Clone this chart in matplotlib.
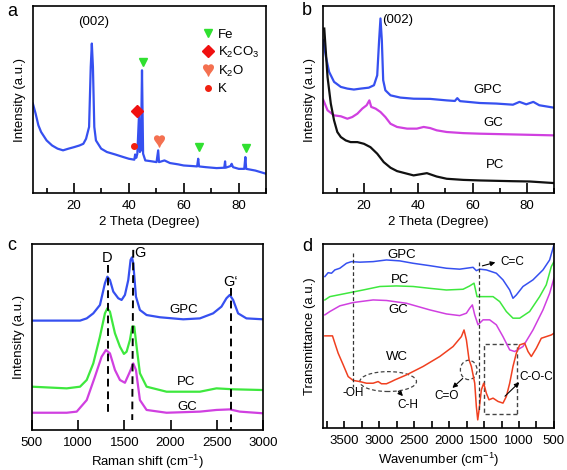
import numpy as np
import matplotlib
matplotlib.use("Agg")
import matplotlib.pyplot as plt
from matplotlib.lines import Line2D
from matplotlib.patches import Ellipse, Rectangle
from matplotlib.ticker import MultipleLocator

plt.rcParams['font.family'] = ['Liberation Sans', 'DejaVu Sans']
plt.rcParams['font.size'] = 9.5
plt.rcParams['mathtext.default'] = 'regular'

# ---------------- panel a : XRD of GPC with phases ----------------
a_theta = [5, 6, 7, 8, 10, 12, 14, 16, 18, 20, 22, 23.4, 24.4, 25.5, 26.1, 26.5, 26.9,
           27.4, 28, 29.9, 32, 35, 38, 40, 42, 42.3, 42.7, 43.1, 43.7, 44.0, 44.4, 44.8,
           45.2, 46, 48, 50.1, 50.7, 51, 53, 55, 58, 60, 63.1, 64.9, 65.3, 65.6, 68.1,
           72, 74.8, 75.1, 75.3, 77.1, 77.5, 78, 80.1, 82.1, 82.5, 82.8, 86.1, 90]
a_int = [47.9, 42.5, 36.3, 32.7, 28.2, 25.5, 23.8, 22.9, 23.8, 24.6, 25.5, 26.4, 29.1,
         35.4, 67.5, 80.0, 67.5, 35.4, 28.2, 23.8, 22.0, 20.7, 19.3, 18.4, 17.9, 20.7,
         18.9, 21.1, 41.6, 22.0, 22.9, 65.7, 21.1, 17.5, 17.1, 16.6, 22.9, 16.6, 17.5,
         16.1, 15.4, 14.8, 14.5, 14.3, 18.4, 14.3, 13.9, 13.4, 13.6, 17.0, 13.6, 14.5,
         15.7, 13.9, 13.0, 13.0, 19.3, 13.0, 12.1, 10.4]
fe_theta = [45.2, 65.6, 82.8]
fe_int = [70.2, 24.6, 24.3]
k2co3_theta, k2co3_int = [42.9], [43.8]
k2o_theta, k2o_int = [51.0], [27.9]
k_theta, k_int = [42.0], [25.2]

# ---------------- panel b : XRD of PC, GC, GPC ----------------
b_gpc_theta = [5, 6, 7.2, 9, 11.5, 13.9, 16.3, 18.8, 21.8, 23.7, 24.9, 25.6, 26.1, 26.6,
               27.1, 27.9, 29.8, 33.4, 38.3, 44.4, 50.5, 53.5, 54.4, 55.4, 62.7, 68.8,
               74.9, 77.3, 79.8, 82.4, 84.6, 90]
b_gpc = [81.8, 72.9, 64.8, 59.5, 56.8, 55.9, 55.4, 55.9, 56.4, 57.7, 63.0, 81.8, 93.4,
         81.8, 60.4, 55.0, 52.3, 51.1, 50.5, 50.4, 49.6, 49.3, 50.8, 49.2, 48.2, 47.9,
         47.3, 48.8, 47.5, 48.8, 47.0, 45.7]
b_gc_theta = [5, 6.6, 9, 11.5, 13.9, 15.7, 17.6, 19.4, 21.0, 22.0, 22.7, 24.3, 26.1,
              27.9, 29.8, 32.2, 35.9, 39.5, 42.0, 44.4, 46.8, 50.5, 56.6, 62.7, 74.9, 90]
b_gc = [50.0, 44.3, 41.6, 41.1, 39.8, 40.7, 42.5, 45.2, 47.0, 49.6, 46.1, 45.2, 43.4,
        40.7, 37.1, 35.4, 34.5, 34.5, 35.4, 34.8, 33.6, 32.7, 32.1, 31.8, 31.4, 30.9]
b_pc_theta = [5.4, 6.6, 7.8, 9, 10.2, 11.5, 13.3, 15.1, 17.6, 20, 22.4, 24.9, 27.3,
              29.8, 32.2, 35.9, 38.3, 43.2, 46.8, 50.5, 56.6, 62.7, 74.9, 81, 90]
b_pc = [88.0, 62.1, 47.9, 38.9, 32.7, 30.0, 28.2, 27.3, 27.3, 26.4, 24.6, 21.1, 16.6,
        13.6, 11.8, 10.4, 9.5, 10.7, 8.9, 7.7, 7.1, 6.8, 6.4, 6.25, 5.4]

# ---------------- panel c : Raman ----------------
c_gpc_x = [500, 1022, 1094, 1165, 1237, 1291, 1317, 1345, 1381, 1435, 1471, 1507, 1543,
           1568, 1583, 1597, 1626, 1669, 1741, 1885, 2137, 2317, 2460, 2550, 2604, 2640,
           2676, 2730, 2820, 3000]
c_gpc = [58.8, 58.8, 60.0, 62.7, 67.2, 78.9, 82.4, 80.6, 74.4, 70.8, 69.9, 72.6, 80.6,
         91.4, 92.8, 89.6, 71.7, 64.5, 61.8, 60.6, 59.5, 60.0, 62.7, 66.3, 70.8, 72.6,
         69.9, 62.7, 60.0, 59.5]
c_pc_x = [500, 878, 1022, 1094, 1165, 1237, 1291, 1317, 1345, 1399, 1453, 1496, 1525,
          1561, 1586, 1608, 1633, 1669, 1741, 1957, 2317, 2496, 2676, 3000]
c_pc = [23.3, 22.4, 23.3, 26.9, 35.8, 50.2, 62.7, 65.4, 63.6, 52.0, 44.8, 40.9, 42.1,
        48.4, 55.6, 55.6, 44.8, 30.5, 23.3, 20.6, 20.6, 22.4, 21.9, 21.5]
c_gc_x = [500, 878, 986, 1094, 1183, 1255, 1302, 1345, 1399, 1453, 1507, 1561, 1597,
          1626, 1669, 1741, 1957, 2317, 2496, 2640, 2748, 3000]
c_gc = [9.3, 9.3, 9.9, 16.1, 28.7, 39.4, 43.0, 41.2, 32.3, 26.9, 25.4, 31.4, 35.8,
        32.3, 16.1, 10.8, 9.3, 9.9, 10.8, 11.1, 9.9, 9.0]

# ---------------- panel d : FTIR ----------------
d_gpc_x = [3776, 3729, 3681, 3633, 3562, 3467, 3395, 3276, 3086, 2895, 2705, 2514, 2276,
           2038, 1848, 1657, 1610, 1562, 1467, 1324, 1229, 1133, 1086, 1038, 943, 800,
           657, 562, 500]
d_gpc = [82.3, 84.4, 84.1, 85.9, 86.8, 89.5, 90.4, 90.1, 90.4, 91.3, 90.8, 89.5, 88.2,
         86.8, 86.3, 87.3, 85.5, 86.3, 85.9, 84.1, 80.5, 75.0, 70.5, 72.3, 76.9, 80.5,
         85.9, 91.3, 99.5]
d_pc_x = [3776, 3705, 3467, 3229, 2990, 2752, 2514, 2276, 2038, 1800, 1705, 1643, 1600,
          1514, 1371, 1276, 1181, 1086, 990, 848, 705, 610, 538, 500]
d_pc = [69.6, 71.4, 73.2, 75.0, 76.9, 77.2, 76.9, 75.9, 75.0, 75.4, 77.2, 78.7, 71.4,
        71.4, 71.4, 68.7, 63.3, 59.7, 59.7, 63.3, 71.4, 77.8, 87.7, 90.4]
d_gc_x = [3776, 3705, 3562, 3371, 3086, 2895, 2610, 2276, 2038, 1848, 1752, 1705, 1667,
          1633, 1586, 1514, 1419, 1324, 1229, 1133, 1062, 943, 800, 657, 562, 500]
d_gc = [61.5, 63.3, 66.4, 68.2, 69.6, 69.3, 67.8, 64.2, 62.0, 61.1, 62.4, 65.1, 66.9,
        61.5, 56.1, 58.8, 58.8, 56.1, 49.7, 42.5, 41.6, 44.3, 53.3, 64.2, 73.2, 81.4]
d_wc_x = [3776, 3667, 3633, 3586, 3514, 3443, 3371, 3276, 3181, 3086, 3014, 2967, 2895,
          2824, 2776, 2610, 2371, 2133, 1943, 1824, 1786, 1752, 1714, 1681, 1633, 1610,
          1590, 1571, 1538, 1505, 1467, 1429, 1371, 1300, 1229, 1181, 1133, 1086, 1038,
          990, 919, 871, 824, 752, 681, 610, 538, 500]
d_wc = [50.1, 50.1, 46.1, 40.7, 34.4, 28.0, 25.9, 25.3, 24.4, 24.4, 25.3, 24.1, 24.1,
        25.3, 26.2, 28.9, 33.5, 38.9, 44.3, 49.7, 53.3, 47.9, 37.1, 33.5, 24.4, 11.8,
        4.5, 9.9, 20.8, 24.4, 19.0, 15.4, 16.3, 14.5, 13.6, 17.2, 24.4, 33.5, 40.7,
        45.2, 46.1, 41.6, 38.9, 43.4, 48.8, 49.7, 50.6, 51.5]

BLUE = '#3650f0'
MAG = '#d040e0'
GREEN = '#3ee83e'
RED = '#f04020'

fig = plt.figure(figsize=(5.67, 4.7), dpi=100)
ax_a = fig.add_axes([0.058, 0.589, 0.411, 0.398])
ax_b = fig.add_axes([0.570, 0.589, 0.407, 0.398])
ax_c = fig.add_axes([0.056, 0.085, 0.408, 0.396])
ax_d = fig.add_axes([0.570, 0.089, 0.407, 0.392])

for ax in (ax_a, ax_b, ax_c, ax_d):
    for s in ax.spines.values():
        s.set_linewidth(1.2)
    ax.set_ylim(0, 100)
    ax.tick_params(left=False, labelleft=False)
    ax.tick_params(axis='x', which='both', direction='in', width=1.2, pad=5,
                   labelsize=9.5)

# a
ax_a.plot(a_theta, a_int, color=BLUE, lw=1.6)
ax_a.plot(fe_theta, fe_int, 'v', color='#30e030', ms=6, ls='none')
ax_a.plot(k2co3_theta, k2co3_int, 'D', color='#f01010', ms=6, ls='none')
ax_a.plot(k2o_theta, k2o_int, marker='$\u2665$', color='#f47050', ms=8, ls='none')
ax_a.plot(k_theta, k_int, 'o', color='#f02010', ms=4, ls='none')
ax_a.text(27.1, 91.5, '(002)', ha='center', va='center')
handles = [Line2D([], [], marker='v', color='#30e030', ls='none', ms=6),
           Line2D([], [], marker='D', color='#f01010', ls='none', ms=6),
           Line2D([], [], marker='$\u2665$', color='#f47050', ls='none', ms=8),
           Line2D([], [], marker='o', color='#f02010', ls='none', ms=4)]
ax_a.legend(handles, ['Fe', 'K$_2$CO$_3$', 'K$_2$O', 'K'], loc='upper left',
            bbox_to_anchor=(0.695, 0.915), frameon=False, borderpad=0,
            handlelength=1.0, handletextpad=0.25, labelspacing=0.3, fontsize=9.5)
ax_a.set_xlim(5, 90)
ax_a.xaxis.set_major_locator(MultipleLocator(20))
ax_a.xaxis.set_minor_locator(MultipleLocator(10))
ax_a.tick_params(axis='x', which='major', length=7)
ax_a.tick_params(axis='x', which='minor', length=3.5)
ax_a.set_xlabel('2 Theta (Degree)', labelpad=3)
ax_a.set_ylabel('Intensity (a.u.)', labelpad=5)

# b
ax_b.plot(b_gpc_theta, b_gpc, color=BLUE, lw=1.6)
ax_b.plot(b_gc_theta, b_gc, color=MAG, lw=1.6)
ax_b.plot(b_pc_theta, b_pc, color='#111111', lw=1.6)
ax_b.text(26.8, 92.5, '(002)', ha='left', va='center')
ax_b.text(65.7, 55, 'GPC', ha='center', va='center')
ax_b.text(67.6, 37.5, 'GC', ha='center', va='center')
ax_b.text(68.2, 14.8, 'PC', ha='center', va='center')
ax_b.set_xlim(5, 90)
ax_b.xaxis.set_major_locator(MultipleLocator(20))
ax_b.xaxis.set_minor_locator(MultipleLocator(10))
ax_b.tick_params(axis='x', which='major', length=7)
ax_b.tick_params(axis='x', which='minor', length=3.5)
ax_b.set_xlabel('2 Theta (Degree)', labelpad=3)
ax_b.set_ylabel('Intensity (a.u.)', labelpad=5)

# c
ax_c.plot(c_gpc_x, c_gpc, color=BLUE, lw=1.6)
ax_c.plot(c_pc_x, c_pc, color=GREEN, lw=1.6)
ax_c.plot(c_gc_x, c_gc, color=MAG, lw=1.6)
ax_c.plot([1320, 1320], [88.7, 8.1], color='k', ls=(0, (4, 2.5)), lw=1.4)
ax_c.plot([1597, 1586], [96.8, 5.4], color='k', ls=(0, (4, 2.5)), lw=1.4)
ax_c.plot([2651, 2651], [76.2, 0], color='k', ls=(0, (4, 2.5)), lw=1.4)
ax_c.text(1309, 92.3, 'D', ha='center', va='center', fontsize=10.5)
ax_c.text(1669, 95.3, 'G', ha='center', va='center', fontsize=10.5)
ax_c.text(2645, 79.7, "G\u2018", ha='center', va='center', fontsize=10.5)
ax_c.text(2137, 64.5, 'GPC', ha='center', va='center')
ax_c.text(2165, 26.0, 'PC', ha='center', va='center')
ax_c.text(2180, 12.5, 'GC', ha='center', va='center')
ax_c.set_xlim(500, 3000)
ax_c.set_xticks([500, 1000, 1500, 2000, 2500, 3000])
ax_c.tick_params(axis='x', which='major', length=7)
ax_c.set_xlabel('Raman shift (cm$^{-1}$)', labelpad=3)
ax_c.set_ylabel('Intensity (a.u.)', labelpad=5)

# d
ax_d.plot(d_gpc_x, d_gpc, color=BLUE, lw=1.1)
ax_d.plot(d_pc_x, d_pc, color=GREEN, lw=1.1)
ax_d.plot(d_gc_x, d_gc, color=MAG, lw=1.1)
ax_d.plot(d_wc_x, d_wc, color=RED, lw=1.1)
dash = dict(color='#333333', ls=(0, (3, 2)), lw=0.9)
ax_d.plot([3371, 3371], [94.9, 22.6], **dash)
ax_d.plot([1576, 1576], [90.4, 10.0], **dash)
ax_d.add_patch(Ellipse((2871, 25.3), 810, 10.8, fill=False, ec='#444444', ls=(0, (3, 2)), lw=0.9))
ax_d.add_patch(Ellipse((1719, 31.6), 238, 10.5, fill=False, ec='#444444', ls=(0, (3, 2)), lw=0.9))
ax_d.add_patch(Rectangle((1024, 7.6), 476, 38.2, fill=False, ec='#444444', ls=(0, (3, 2)), lw=1.0))
arr = dict(arrowstyle='-|>', color='k', lw=0.8, mutation_scale=7)
ax_d.annotate('', xy=(1300, 90.4), xytext=(1562, 87.7), arrowprops=arr)
ax_d.annotate('', xy=(2633, 16.3), xytext=(2752, 21.2), arrowprops=arr)
ax_d.annotate('', xy=(1981, 20.8), xytext=(1776, 28.0), arrowprops=arr)
ax_d.annotate('', xy=(967, 25.9), xytext=(1229, 16.3), arrowprops=arr)
ax_d.text(1270, 90.4, 'C=C', ha='left', va='center', fontsize=8.5)
ax_d.text(2586, 12.7, 'C-H', ha='center', va='center', fontsize=8.5)
ax_d.text(2038, 17.2, 'C=O', ha='center', va='center', fontsize=8.5)
ax_d.text(752, 28.0, 'C-O-C', ha='center', va='center', fontsize=8.5)
ax_d.text(3371, 19.0, '-OH', ha='center', va='center', fontsize=8.5)
ax_d.text(2681, 94.0, 'GPC', ha='center', va='center')
ax_d.text(2705, 80.5, 'PC', ha='center', va='center')
ax_d.text(2729, 64.2, 'GC', ha='center', va='center')
ax_d.text(2752, 38.9, 'WC', ha='center', va='center')
ax_d.set_xlim(3800, 500)
ax_d.set_xticks([3500, 3000, 2500, 2000, 1500, 1000, 500])
ax_d.xaxis.set_minor_locator(MultipleLocator(250))
ax_d.tick_params(axis='x', which='both', length=5)
ax_d.set_xlabel('Wavenumber (cm$^{-1}$)', labelpad=3)
ax_d.set_ylabel('Transmittance (a.u.)', labelpad=5)

fig.text(0.012, 0.975, 'a', fontsize=13, va='center')
fig.text(0.533, 0.978, 'b', fontsize=13, va='center')
fig.text(0.012, 0.478, 'c', fontsize=13, va='center')
fig.text(0.533, 0.476, 'd', fontsize=13, va='center')

fig.savefig('out.png', dpi=100)
